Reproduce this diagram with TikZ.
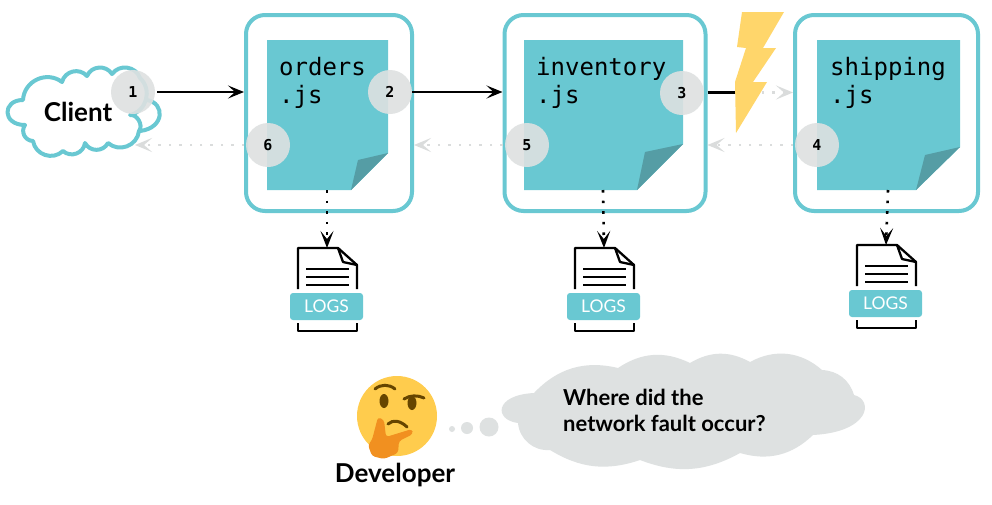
\documentclass[tikz,border=0pt]{standalone}
\usepackage{fontspec}
\setmainfont{Lato}
\newfontfamily\codefont{DejaVu Sans Mono}
\usetikzlibrary{arrows.meta}
\definecolor{teal1}{HTML}{69C8D2}
\definecolor{teal2}{HTML}{559DA5}
\definecolor{greyc}{HTML}{DEE1E1}
\definecolor{dotg}{HTML}{DADCDC}
\definecolor{bolt}{HTML}{FFD66B}
\definecolor{face}{HTML}{FFCC4D}
\definecolor{hand}{HTML}{F19020}
\definecolor{feat}{HTML}{664500}
\tikzset{
  x=1pt,y=-1pt,
  service/.style={draw=teal1,line width=4pt,rounded corners=19pt,inner sep=0pt,fill=white},
  filename/.style={anchor=north west,inner sep=0pt,align=left,font=\codefont\fontsize{24}{28}\selectfont},
  badge/.style={circle,fill=greyc,fill opacity=.9,text opacity=1,minimum size=44pt,inner sep=0pt,font=\codefont\bfseries\fontsize{15}{16}\selectfont},
  flow/.style={line width=2.4pt,black,-{Stealth[length=16pt,width=13pt,inset=7pt]}},
  plain/.style={line width=2.4pt,black},
  reply/.style={line width=2.4pt,dotg,dash pattern=on 2.4pt off 8pt,-{Stealth[length=17pt,width=14pt,inset=8pt,fill=dotg]}},
  logflow/.style={line width=2.6pt,black,dash pattern=on 2.6pt off 8pt,-{Stealth[length=17pt,width=13pt,inset=8pt]}},
  doc/.style={fill=teal1},
  fold/.style={fill=teal2},
  logtag/.style={fill=teal1,rounded corners=3pt,minimum width=73pt,minimum height=27pt,inner sep=0pt,text=white,font=\fontsize{17.5}{20}\selectfont},
  logline/.style={line width=2.3pt,black},
  lobe/.style={bend left=62,looseness=1.15},
  boldtext/.style={font=\bfseries\fontsize{26}{28}\selectfont,inner sep=0pt},
}
\newcommand{\logicon}[3]{%
  \begin{scope}[shift={(#1,#2)}]
    \draw[logline,line join=round] (298,289) -- (298,248) -- (338,248) -- (357,265) -- (357,289);
    \draw[logline,line join=round] (338,248) -- (343,262) -- (357,265);
    \draw[logline] (306,269) -- (349,269) (306,277) -- (349,277) (306,285) -- (349,285);
    \draw[logline,line join=round] (298,323) -- (298,331) -- (357,331) -- (357,323);
    \node[logtag] (#3) at (326.5,306.5) {LOGS};
    \coordinate (#3top) at (327,248);
  \end{scope}}
\begin{document}
\begin{tikzpicture}
\useasboundingbox (0,0) rectangle (992,504);
\fill[white] (0,0) rectangle (992,504);

% client cloud: back lobe, then front
\draw[teal1,line width=4pt,fill=white] (140,90) -- (147,100) .. controls (165,103) and (165,128) .. (140,131) -- (125,125) -- cycle;
\draw[teal1,line width=4pt,fill=white,line join=round]
  (23,100) to[lobe] (62,82) to[lobe] (87,76) to[lobe] (112,74) to[lobe] (140,78)
  to[lobe] (130,115) to[bend left=70] (139,131) to[lobe] (108,143) to[lobe] (85,143) to[lobe] (63,151)
  to[lobe] (33,141) to[lobe] (25,125) .. controls (2,125) and (2,100) .. cycle;
\node[boldtext] (client) at (78,112) {Client};

% services
\node[service,minimum width=166pt,minimum height=196pt] (orders) at (329,113) {};
\node[service,minimum width=201pt,minimum height=196pt] (inventory) at (605,113) {};
\node[service,minimum width=183pt,minimum height=196pt] (shipping) at (886.5,113) {};

% documents
\fill[doc] (267,40) -- (388,40) -- (388,153) -- (351,190) -- (267,190) -- cycle;
\fill[fold] (351,190) -- (358,160) -- (388,153) -- cycle;
\fill[doc] (524,40) -- (683,40) -- (683,144) -- (637,190) -- (524,190) -- cycle;
\fill[fold] (637,190) -- (645,152) -- (683,144) -- cycle;
\fill[doc] (817,40) -- (960,40) -- (960,147) -- (916,190) -- (817,190) -- cycle;
\fill[fold] (916,190) -- (925,155) -- (960,147) -- cycle;
\coordinate (docA) at (327,190);
\coordinate (docB) at (603,190);
\coordinate (docC) at (888,190);

\node[filename] (ordersname) at (279,57) {orders\\.js};
\node[filename] (inventoryname) at (536,57) {inventory\\.js};
\node[filename] (shippingname) at (830,57) {shipping\\.js};

% log icons
\logicon{0}{0}{logA}
\logicon{277}{0}{logB}
\logicon{559}{-3}{logC}

% badge positions
\coordinate (p1) at (133,92);
\coordinate (p2) at (390,92);
\coordinate (p3) at (682,93);
\coordinate (p4) at (817,145);
\coordinate (p5) at (527,145);
\coordinate (p6) at (268,145);
\coordinate (breakA) at (745,92.5);
\coordinate (breakB) at (762,92.5);

% connectors
\draw[flow] (p1) ++(24,0) -- (orders.west |- p1);
\draw[flow] (p2) ++(22,0) -- (inventory.west |- p2);
\draw[plain] (inventory.east |- breakA) -- (breakA);
\draw[reply] (breakB) -- (shipping.west |- breakB);
\draw[reply] (shipping.west |- p4) -- (inventory.east |- p4);
\draw[reply] (inventory.west |- p5) -- (orders.east |- p5);
\draw[reply] (orders.west |- p6) -- (135,145);
\draw[logflow] (docA) -- (logAtop);
\draw[logflow] (docB) -- (logBtop);
\draw[logflow] (docC) -- (logCtop);

% lightning
\fill[bolt] (742,12) -- (784,12) -- (763,48) -- (776,48) -- (753,82) -- (767,82) -- (736,133) -- (735,82) -- (746,48) -- (737,47) -- cycle;

% badges
\node[badge] (c1) at (p1) {1};
\node[badge] (c2) at (p2) {2};
\node[badge] (c3) at (p3) {3};
\node[badge] (c4) at (p4) {4};
\node[badge] (c5) at (p5) {5};
\node[badge] (c6) at (p6) {6};

% thought cloud
\fill[greyc] (534,393) to[bend left=30] (618,368) to[bend left=30] (690,363) to[bend left=30] (750,362) to[bend left=35] (822,370)
  to[bend left=35] (854,395) .. controls (874,400) and (870,432) .. (813,435) to[bend left=30] (740,453) to[bend left=25] (640,460) to[bend left=25] (550,450)
  to[bend left=45] (518,423) .. controls (494,420) and (494,395) .. cycle;
\node[anchor=west,inner sep=0pt,align=left,font=\bfseries\fontsize{22}{26}\selectfont] (question) at (563,410) {Where did the\\network fault occur?};
\fill[greyc] (489,427) circle (9.5);
\fill[greyc] (467,428) circle (6);
\fill[greyc] (452,429) circle (3);

% thinking face
\fill[face] (397,416) circle (40);
\fill[feat] (384,401) ellipse (4.5 and 7);
\fill[feat] (412,403) ellipse (4.5 and 7);
\draw[feat,line width=3pt,line cap=round] (375,389) .. controls (381,384) and (389,384) .. (395,389);
\draw[feat,line width=3pt,line cap=round] (404,399) .. controls (410,395) and (418,395) .. (424,398);
\draw[feat,line width=3pt,line cap=round] (388,424) .. controls (393,419) and (401,421) .. (407,427);
\fill[hand,rounded corners=3pt] (372,440) -- (378,417) -- (384,420) -- (386,437) -- (412,429) -- (413,434) -- (399,441) -- (398,453) -- (384,459) -- (372,456) -- (368,445) -- cycle;
\node[boldtext] (developer) at (395,475) {Developer};
\end{tikzpicture}
\end{document}
